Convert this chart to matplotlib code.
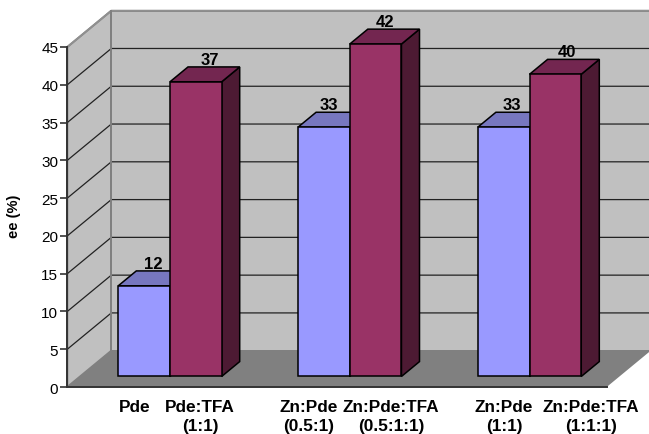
import matplotlib
matplotlib.use("Agg")
import matplotlib.pyplot as plt
from matplotlib.patches import Polygon

plt.rcParams['font.family'] = ['Liberation Sans', 'DejaVu Sans']

# ---- data ----
categories = ["Pde", "Pde:TFA\n(1:1)", "Zn:Pde\n(0.5:1)", "Zn:Pde:TFA\n(0.5:1:1)", "Zn:Pde\n(1:1)", "Zn:Pde:TFA\n(1:1:1)"]
bar_heights = [12, 39, 33, 44, 33, 40]
value_labels = ["12", "37", "33", "42", "33", "40"]
y_ticks = [0, 5, 10, 15, 20, 25, 30, 35, 40, 45]
y_title = "ee (%)"

# ---- layout ----
W, H = 649, 435
LEFT, RIGHT, TOP, BOTTOM = 67.3, 606.7, 48.0, 388.0
N_GROUPS = 3
YMAX = 45
PX_X = (RIGHT - LEFT) / N_GROUPS     # pixels per category
PX_Y = (BOTTOM - TOP) / YMAX         # pixels per value unit
DX = 44.0 / PX_X                     # chart depth in data units
DY = 36.3 / PX_Y
BAR_W = 51.7 / PX_X
D0, D1 = 0.29, 0.70                  # bar's depth range, as fraction of chart depth
label_px_x = [135, 200, 308.5, 391, 504, 591]
label_px_y = 400
value_label_shift_px = [0, 5, -4, 0, -1, 3]

WALL, GRID, FLOOR, AXIS = "#C0C0C0", "#222222", "#808080", "#333333"
FRONT = ["#9999FF", "#993366"]
TOPC = ["#7777BF", "#732650"]
SIDE = ["#5A5A9A", "#4D1A33"]

fig = plt.figure(figsize=(W / 100, H / 100), dpi=100)
ax = fig.add_axes([LEFT / W, 1 - BOTTOM / H, (RIGHT - LEFT) / W, (BOTTOM - TOP) / H])
ax.set_xlim(0, N_GROUPS)
ax.set_ylim(0, YMAX)
ax.patch.set_visible(False)


def poly(pts, fc, ec="none", lw=0.0, z=1):
    ax.add_patch(Polygon(pts, closed=True, fc=fc, ec=ec, lw=lw, zorder=z,
                         clip_on=False, joinstyle="miter"))


# walls and floor
poly([(0, 0), (DX, DY), (DX, YMAX + DY), (0, YMAX)], WALL, FLOOR, 1.4, 1)
poly([(DX, DY), (N_GROUPS + DX, DY), (N_GROUPS + DX, YMAX + DY), (DX, YMAX + DY)], WALL, FLOOR, 1.4, 1)
poly([(0, 0), (N_GROUPS, 0), (N_GROUPS + DX, DY), (DX, DY)], FLOOR, z=2)

# gridlines
for t in y_ticks[1:-1]:
    ax.plot([0, DX, N_GROUPS + DX], [t, t + DY, t + DY], color=GRID, lw=0.9, zorder=3,
            clip_on=False, solid_joinstyle="miter")
ax.plot([0, DX, N_GROUPS + DX], [YMAX, YMAX + DY, YMAX + DY], color="#909090", lw=1.4, zorder=3, clip_on=False)
ax.plot([DX, DX], [DY, YMAX + DY], color="#808080", lw=1.4, zorder=3, clip_on=False)

# bars
for i, h in enumerate(bar_heights):
    group, s = divmod(i, 2)
    x0 = group + 0.5 + (s - 1) * BAR_W + DX * D0
    x1 = x0 + BAR_W
    y0 = DY * D0
    y1 = y0 + h
    ddx, ddy = DX * (D1 - D0), DY * (D1 - D0)
    z = 5 + i
    kw = dict(ec="black", lw=1.1, z=z)
    poly([(x1, y0), (x1 + ddx, y0 + ddy), (x1 + ddx, y1 + ddy), (x1, y1)], SIDE[s], **kw)
    poly([(x0, y1), (x1, y1), (x1 + ddx, y1 + ddy), (x0 + ddx, y1 + ddy)], TOPC[s], **kw)
    poly([(x0, y0), (x1, y0), (x1, y1), (x0, y1)], FRONT[s], **kw)
    ax.text((x0 + x1) / 2 + ddx / 2 + value_label_shift_px[i] / PX_X, y1 + ddy + 3 / PX_Y, value_labels[i],
            ha="center", va="baseline", fontsize=12, fontweight="bold", color="black", zorder=20, clip_on=False)

# axes
for name in ("top", "right"):
    ax.spines[name].set_visible(False)
for name in ("left", "bottom"):
    ax.spines[name].set_color(AXIS)
    ax.spines[name].set_linewidth(1.4)
    ax.spines[name].set_zorder(15)
ax.set_xticks([])
ax.set_yticks(y_ticks)
ax.tick_params(axis="y", length=5, width=1.2, color=AXIS, labelsize=11, pad=1.5, labelcolor="black")

fig.text(14.5 / W, 1 - 216 / H, y_title, rotation=90, ha="center", va="center",
         fontsize=10.5, fontweight="bold")

for name, px in zip(categories, label_px_x):
    fig.text(px / W, 1 - label_px_y / H, name, ha="center", va="top", fontsize=12.4,
             fontweight="bold", linespacing=1.3)

fig.savefig("out.png", dpi=100)
